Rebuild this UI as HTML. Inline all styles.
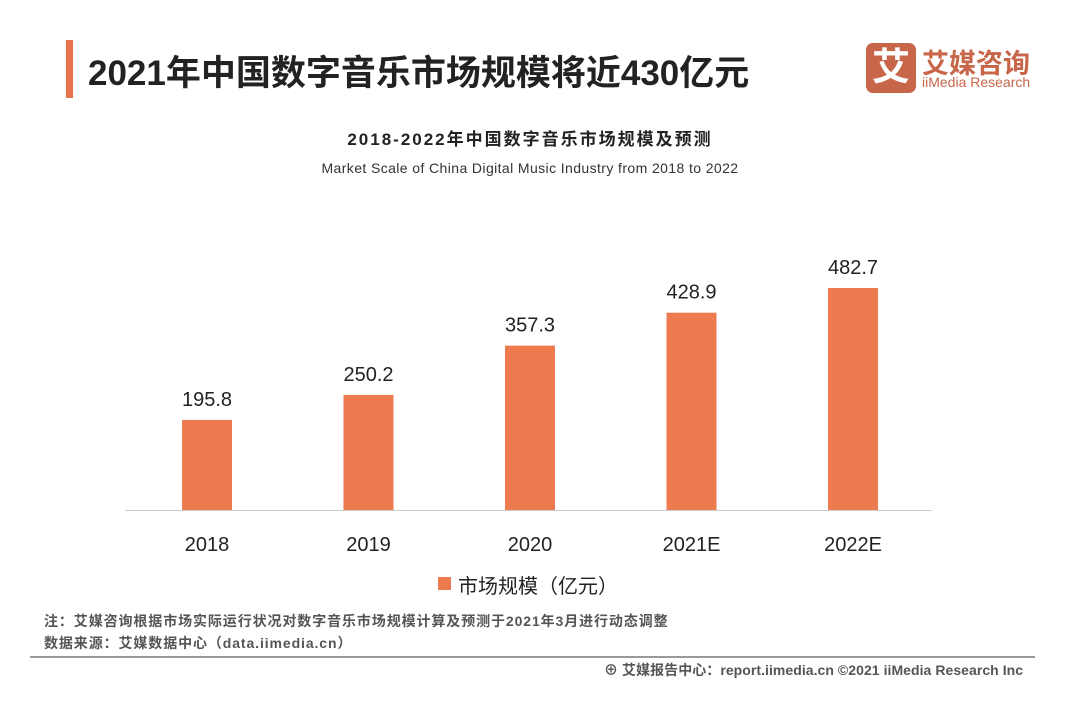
<!DOCTYPE html>
<html><head><meta charset="utf-8">
<style>
body{margin:0;width:1080px;height:701px;background:#fff;overflow:hidden;position:relative;font-family:"Liberation Sans","Noto Sans CJK SC",sans-serif}
.a{position:absolute;white-space:nowrap}
</style></head><body>
<div class="a" style="left:66px;top:40px;width:7px;height:58px;background:#e8734a"></div>
<div class="a" style="left:88px;top:45px;font-size:35px;font-weight:bold;color:#222">2021年中国数字音乐市场规模将近430亿元</div>
<div class="a" style="left:866px;top:43px;width:50px;height:50px;background:#c8664a;border-radius:7px;color:#fff;font-size:38px;line-height:50px;text-align:center;font-weight:bold">艾</div>
<div class="a" style="left:922px;top:42px;font-size:27px;font-weight:bold;color:#c8664a">艾媒咨询</div>
<div class="a" style="left:922px;top:74px;font-size:14px;color:#c8664a">iiMedia Research</div>
<div class="a" style="left:0;width:1060px;text-align:center;top:125px;font-size:17px;letter-spacing:2px;font-weight:bold;color:#222">2018-2022年中国数字音乐市场规模及预测</div>
<div class="a" style="left:0;width:1060px;text-align:center;top:160px;font-size:14px;letter-spacing:0.4px;color:#333">Market Scale of China Digital Music Industry from 2018 to 2022</div>
<svg class="a" style="left:0;top:0" width="1080" height="701">
<g id="g"></g>
<line x1="125" y1="510.5" x2="932" y2="510.5" stroke="#ccc"/>
</svg>
<div class="a" style="left:438px;top:577px;width:13px;height:13px;background:#ee7a50"></div>
<div class="a" style="left:458px;top:570px;font-size:20px;color:#222">市场规模（亿元）</div>
<div class="a" style="left:44px;top:611px;font-size:14px;letter-spacing:0.9px;font-weight:bold;color:#555">注：艾媒咨询根据市场实际运行状况对数字音乐市场规模计算及预测于2021年3月进行动态调整</div>
<div class="a" style="left:44px;top:633px;font-size:14px;letter-spacing:0.9px;font-weight:bold;color:#555">数据来源：艾媒数据中心（data.iimedia.cn）</div>
<div class="a" style="left:30px;top:656px;width:1005px;height:2px;background:#999"></div>
<div class="a" style="left:604px;top:660px;font-size:14px;letter-spacing:0.05px;font-weight:bold;color:#555">⊕ 艾媒报告中心：report.iimedia.cn ©2021  iiMedia Research  Inc</div>
<script>
const categories=["2018","2019","2020","2021E","2022E"];
const values=[195.8,250.2,357.3,428.9,482.7];
const labels=["195.8","250.2","357.3","428.9","482.7"];
const ns="http://www.w3.org/2000/svg",g=document.getElementById("g");
const x0=207,step=161.5,base=510,k=0.46,bw=50;
const xs=i=>x0+i*step, ys=v=>base-v*k;
function t(x,y,s,n){const e=document.createElementNS(ns,"text");e.setAttribute("x",x);e.setAttribute("y",y);e.setAttribute("text-anchor","middle");e.setAttribute("font-size","20");e.setAttribute("fill","#222");e.setAttribute("font-family","Liberation Sans, sans-serif");e.textContent=s;


g.appendChild(e);}
values.forEach((v,i)=>{const r=document.createElementNS(ns,"rect");r.setAttribute("x",xs(i)-bw/2);r.setAttribute("y",ys(v));r.setAttribute("width",bw);r.setAttribute("height",base-ys(v));r.setAttribute("fill","#ee7a50");


g.appendChild(r);
t(xs(i),ys(v)-14,labels[i],'value-label-'+categories[i]);
t(xs(i),551,categories[i],'x-tick-'+categories[i]);});
</script>
</body></html>
